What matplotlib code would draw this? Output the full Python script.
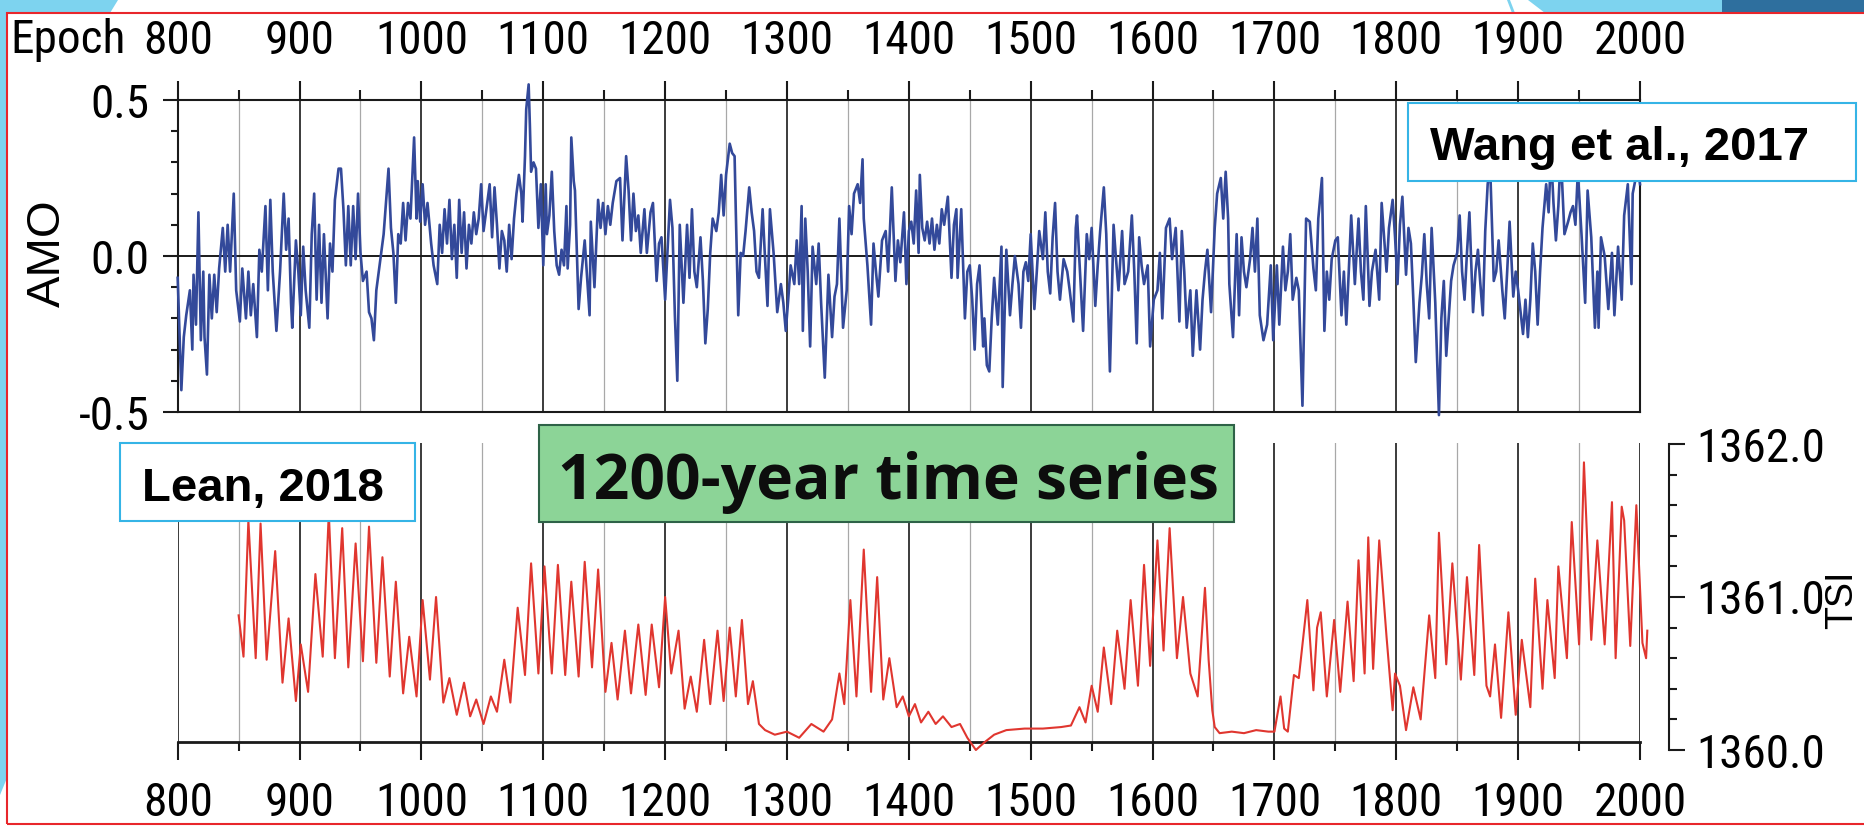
import matplotlib
matplotlib.use("Agg")
import matplotlib.pyplot as plt
import matplotlib.patches as mpatches
from matplotlib import font_manager as fm
from matplotlib.ticker import MultipleLocator, FormatStrFormatter

plt.rcParams["font.family"] = ["Liberation Sans", "DejaVu Sans"]
plt.rcParams["axes.unicode_minus"] = False

# ---- values (year, value) ----
amo_800_1100 = [
    (800, -0.07), (803, -0.43), (805, -0.26), (807, -0.19), (810, -0.11), (812, -0.30), (813, -0.06),
    (815, -0.22), (817, 0.14), (819, -0.27), (821, -0.05), (822, -0.26), (824, -0.38), (826, -0.06),
    (828, -0.20), (830, -0.06), (832, -0.18), (834, -0.04), (837, 0.09), (839, -0.05), (841, 0.10),
    (843, -0.05), (846, 0.20), (848, -0.11), (851, -0.21), (853, -0.04), (856, -0.20), (858, -0.05),
    (860, -0.19), (862, -0.09), (865, -0.26), (867, 0.02), (869, -0.05), (872, 0.16), (874, -0.11),
    (876, 0.18), (878, -0.05), (881, -0.24), (884, -0.05), (887, 0.20), (889, 0.02), (891, 0.12),
    (893, -0.15), (894, -0.23), (897, 0.05), (899, -0.05), (901, -0.19), (903, 0.03), (905, -0.11),
    (908, -0.23), (910, 0.07), (912, 0.20), (914, -0.14), (916, 0.10), (918, -0.15), (920, 0.07),
    (923, -0.20), (925, 0.04), (927, -0.05), (929, 0.18), (932, 0.28), (934, 0.28), (936, 0.15),
    (938, -0.03), (940, 0.16), (942, -0.03), (944, 0.16), (946, -0.01), (948, 0.20), (950, 0.01),
    (952, -0.08), (955, -0.05), (957, -0.18), (959, -0.20), (961, -0.27), (963, -0.11), (965, -0.05),
    (967, 0.01), (969, 0.07), (973, 0.28), (975, 0.09), (977, 0.01), (979, -0.15), (981, 0.07),
    (983, 0.04), (985, 0.17), (987, 0.05), (989, 0.17), (991, 0.12), (994, 0.38), (996, 0.12),
    (997, 0.24), (999, 0.11), (1001, 0.23), (1003, 0.10), (1005, 0.17), (1008, 0.04), (1010, -0.03),
    (1013, -0.09), (1015, 0.10), (1017, 0.01), (1019, 0.15), (1021, 0.04), (1023, 0.18), (1025, -0.01),
    (1027, 0.10), (1029, -0.07), (1031, 0.18), (1033, 0.01), (1035, 0.14), (1037, -0.04), (1039, 0.10),
    (1041, 0.04), (1043, 0.14), (1045, 0.07), (1047, 0.12), (1049, 0.23), (1051, 0.08), (1053, 0.14),
    (1056, 0.23), (1058, 0.06), (1060, 0.22), (1062, 0.10), (1064, -0.04), (1066, 0.08), (1068, 0.05),
    (1070, -0.05), (1072, 0.10), (1074, -0.01), (1076, 0.12), (1078, 0.20), (1080, 0.26), (1082, 0.20),
    (1083, 0.11), (1085, 0.32), (1086, 0.47), (1088, 0.55), (1089, 0.42), (1090, 0.27), (1092, 0.30),
    (1094, 0.28), (1096, 0.09), (1098, 0.23), (1100, -0.03),
]
amo_1100_1400 = [
    (1102, 0.23), (1103, 0.07), (1105, 0.13), (1107, 0.27), (1109, 0.08), (1111, -0.03), (1113, -0.06),
    (1115, 0.02), (1117, -0.03), (1119, 0.16), (1120, -0.04), (1122, 0.10), (1123, 0.38), (1125, 0.24),
    (1126, 0.21), (1129, -0.17), (1131, -0.07), (1134, 0.05), (1138, -0.19), (1139, 0.11), (1142, -0.10),
    (1145, 0.18), (1147, 0.09), (1149, 0.17), (1151, 0.07), (1153, 0.16), (1155, 0.10), (1157, 0.17),
    (1160, 0.24), (1163, 0.25), (1165, 0.05), (1168, 0.32), (1170, 0.21), (1172, 0.05), (1174, 0.20),
    (1176, 0.08), (1178, 0.13), (1180, 0.01), (1183, 0.15), (1185, 0.01), (1188, 0.14), (1190, 0.17),
    (1193, -0.08), (1195, 0.04), (1197, 0.06), (1200, -0.14), (1204, 0.18), (1206, 0.09), (1208, -0.19),
    (1210, -0.40), (1212, 0.10), (1215, -0.15), (1218, 0.10), (1220, -0.07), (1222, 0.15), (1224, -0.05),
    (1226, -0.10), (1229, 0.06), (1231, -0.08), (1233, -0.28), (1235, -0.17), (1237, 0.01), (1239, 0.12),
    (1242, 0.08), (1244, 0.14), (1246, 0.26), (1248, 0.13), (1250, 0.26), (1253, 0.36), (1255, 0.33),
    (1257, 0.32), (1258, 0.14), (1260, -0.19), (1262, 0.01), (1264, 0.00), (1266, 0.08), (1269, 0.22),
    (1271, 0.14), (1273, 0.08), (1275, -0.05), (1277, -0.07), (1280, 0.15), (1282, -0.01), (1284, -0.16),
    (1286, 0.15), (1289, 0.01), (1292, -0.18), (1295, -0.09), (1297, -0.15), (1299, -0.24), (1301, -0.14),
    (1303, -0.03), (1306, -0.09), (1308, 0.05), (1310, -0.09), (1312, 0.16), (1313, -0.24), (1315, 0.12),
    (1317, -0.05), (1319, -0.29), (1321, 0.03), (1324, -0.09), (1326, 0.04), (1328, -0.15), (1331, -0.39),
    (1334, -0.06), (1337, -0.26), (1339, -0.13), (1341, -0.09), (1343, 0.12), (1346, -0.23), (1349, -0.11),
    (1351, 0.16), (1353, 0.07), (1355, 0.20), (1358, 0.23), (1360, 0.17), (1362, 0.31), (1363, 0.12),
    (1366, -0.03), (1369, -0.22), (1371, 0.04), (1373, -0.05), (1375, -0.13), (1378, 0.05), (1381, 0.08),
    (1383, -0.05), (1386, 0.22), (1389, -0.08), (1391, 0.05), (1393, -0.02), (1396, 0.14), (1398, -0.09),
    (1400, 0.08),
]
amo_1400_1700 = [
    (1402, 0.11), (1404, 0.04), (1406, 0.21), (1408, 0.01), (1409, 0.26), (1411, 0.09), (1413, 0.05),
    (1415, 0.11), (1417, 0.04), (1419, 0.12), (1421, 0.02), (1423, 0.10), (1425, 0.04), (1427, 0.15),
    (1429, 0.10), (1432, 0.19), (1435, -0.07), (1437, 0.10), (1439, 0.15), (1440, -0.07), (1443, 0.15),
    (1446, -0.20), (1448, -0.05), (1450, -0.03), (1452, -0.14), (1454, -0.30), (1456, -0.09), (1458, -0.03),
    (1461, -0.29), (1462, -0.20), (1464, -0.35), (1466, -0.37), (1468, -0.20), (1470, -0.07), (1473, -0.22),
    (1476, 0.03), (1477, -0.42), (1480, 0.02), (1483, -0.19), (1485, -0.09), (1487, 0.00), (1490, -0.09),
    (1492, -0.23), (1494, -0.05), (1496, -0.02), (1498, -0.08), (1500, 0.07), (1503, -0.17), (1505, -0.05),
    (1507, 0.08), (1510, -0.01), (1512, 0.14), (1514, -0.05), (1516, -0.12), (1518, 0.06), (1520, 0.17),
    (1522, -0.05), (1524, -0.14), (1527, -0.01), (1530, -0.05), (1532, -0.11), (1535, -0.21), (1537, 0.09),
    (1538, 0.13), (1541, -0.09), (1543, -0.24), (1546, 0.07), (1548, -0.01), (1550, 0.09), (1553, -0.16),
    (1555, -0.03), (1557, 0.08), (1560, 0.22), (1562, 0.07), (1565, -0.37), (1568, 0.10), (1570, -0.01),
    (1572, -0.11), (1575, 0.08), (1577, -0.09), (1580, -0.05), (1583, 0.13), (1585, -0.05), (1587, -0.28),
    (1589, 0.06), (1591, -0.03), (1593, -0.09), (1596, -0.03), (1598, -0.29), (1601, -0.14), (1604, -0.11),
    (1606, 0.01), (1608, -0.20), (1611, 0.09), (1614, 0.12), (1616, -0.01), (1619, 0.09), (1622, -0.21),
    (1624, 0.08), (1626, -0.05), (1628, -0.23), (1631, -0.11), (1633, -0.32), (1636, -0.11), (1639, -0.30),
    (1641, -0.14), (1643, -0.05), (1645, 0.02), (1648, -0.18), (1651, 0.09), (1653, 0.20), (1656, 0.25),
    (1658, 0.12), (1660, 0.27), (1662, 0.12), (1663, -0.09), (1666, -0.26), (1669, 0.07), (1671, -0.19),
    (1673, 0.06), (1675, -0.05), (1677, -0.10), (1680, -0.01), (1682, 0.09), (1684, -0.05), (1686, 0.12),
    (1688, -0.19), (1691, -0.27), (1694, -0.22), (1697, -0.03),
]
amo_1700_2000 = [
    (1699, -0.27), (1702, -0.03), (1704, -0.22), (1707, 0.03), (1709, -0.11), (1711, -0.05), (1713, 0.07),
    (1715, -0.14), (1718, -0.07), (1720, -0.11), (1723, -0.48), (1726, 0.12), (1729, 0.11), (1732, -0.04),
    (1734, -0.11), (1736, 0.12), (1739, 0.25), (1741, -0.24), (1743, -0.05), (1745, -0.14), (1747, -0.01),
    (1750, 0.05), (1752, 0.06), (1755, -0.19), (1757, -0.05), (1759, -0.22), (1761, -0.05), (1763, 0.13),
    (1766, -0.09), (1769, 0.12), (1771, -0.05), (1773, -0.14), (1775, 0.16), (1778, -0.16), (1780, -0.05),
    (1783, 0.02), (1786, -0.14), (1788, 0.17), (1790, 0.06), (1792, -0.05), (1794, 0.09), (1797, 0.18),
    (1799, 0.06), (1801, -0.09), (1803, 0.10), (1805, 0.19), (1808, -0.06), (1810, 0.09), (1812, 0.04),
    (1814, -0.14), (1816, -0.34), (1819, -0.15), (1821, -0.06), (1823, 0.07), (1825, -0.09), (1827, -0.20),
    (1829, 0.09), (1832, -0.15), (1835, -0.51), (1837, -0.20), (1839, -0.08), (1841, -0.32), (1843, -0.20),
    (1845, -0.08), (1847, -0.03), (1850, 0.01), (1852, 0.13), (1854, -0.05), (1856, -0.14), (1858, 0.01),
    (1860, 0.14), (1863, -0.18), (1865, -0.05), (1867, 0.02), (1869, -0.09), (1871, -0.19), (1873, 0.08),
    (1875, 0.23), (1877, 0.29), (1880, -0.08), (1882, -0.05), (1884, 0.05), (1887, -0.11), (1889, -0.20),
    (1891, -0.05), (1893, 0.11), (1896, -0.13), (1898, -0.05), (1900, -0.11), (1902, -0.18), (1904, -0.25),
    (1906, -0.14), (1908, -0.26), (1910, -0.14), (1912, 0.04), (1914, -0.05), (1916, -0.22), (1918, -0.05),
    (1920, 0.09), (1923, 0.23), (1925, 0.14), (1927, 0.33), (1929, 0.17), (1931, 0.05), (1933, 0.16),
    (1935, 0.33), (1938, 0.07), (1941, 0.11), (1943, 0.14), (1945, 0.16), (1947, 0.10), (1949, 0.27),
    (1952, 0.07), (1955, -0.15), (1957, 0.21), (1960, 0.06), (1963, -0.23), (1965, -0.05), (1966, -0.23),
    (1968, 0.06), (1971, 0.00), (1974, -0.17), (1977, 0.01), (1979, -0.19), (1982, 0.03), (1985, -0.14),
    (1987, 0.13), (1990, 0.23), (1993, -0.09), (1994, 0.20), (1996, 0.24), (1998, 0.29), (2000, 0.23),
]

tsi_850_1250 = [
    (850, 1360.88), (854, 1360.61), (858, 1361.50), (864, 1360.60), (868, 1361.48), (873, 1360.59),
    (880, 1361.30), (886, 1360.44), (891, 1360.86), (897, 1360.32), (901, 1360.69), (907, 1360.38),
    (913, 1361.15), (919, 1360.61), (924, 1361.55), (929, 1360.60), (935, 1361.45), (940, 1360.54),
    (946, 1361.35), (952, 1360.58), (957, 1361.46), (963, 1360.57), (968, 1361.26), (974, 1360.48),
    (979, 1361.10), (985, 1360.37), (990, 1360.74), (996, 1360.35), (1001, 1360.98), (1007, 1360.46),
    (1012, 1361.00), (1018, 1360.31), (1023, 1360.47), (1029, 1360.23), (1035, 1360.44), (1040, 1360.22),
    (1045, 1360.33), (1051, 1360.17), (1057, 1360.35), (1062, 1360.25), (1068, 1360.59), (1073, 1360.31),
    (1079, 1360.93), (1085, 1360.49), (1090, 1361.22), (1096, 1360.50), (1101, 1361.20), (1107, 1360.50),
    (1112, 1361.21), (1118, 1360.49), (1123, 1361.10), (1129, 1360.48), (1134, 1361.23), (1140, 1360.54),
    (1145, 1361.18), (1151, 1360.38), (1156, 1360.70), (1161, 1360.33), (1167, 1360.78), (1172, 1360.37),
    (1178, 1360.82), (1184, 1360.36), (1189, 1360.82), (1195, 1360.41), (1200, 1361.00), (1205, 1360.50),
    (1211, 1360.78), (1216, 1360.27), (1221, 1360.48), (1226, 1360.25), (1232, 1360.72), (1237, 1360.30),
    (1243, 1360.78), (1248, 1360.32),
]
tsi_1250_1650 = [
    (1253, 1360.80), (1258, 1360.35), (1263, 1360.85), (1268, 1360.30), (1272, 1360.45), (1277, 1360.17),
    (1282, 1360.13), (1290, 1360.10), (1300, 1360.12), (1310, 1360.08), (1320, 1360.17), (1330, 1360.12),
    (1337, 1360.20), (1343, 1360.50), (1347, 1360.30), (1352, 1360.98), (1357, 1360.35), (1363, 1361.31),
    (1369, 1360.38), (1374, 1361.13), (1379, 1360.33), (1384, 1360.60), (1390, 1360.28), (1395, 1360.35),
    (1400, 1360.22), (1405, 1360.30), (1410, 1360.18), (1416, 1360.25), (1422, 1360.17), (1428, 1360.22),
    (1435, 1360.15), (1442, 1360.17), (1448, 1360.08), (1455, 1360.00), (1462, 1360.05), (1470, 1360.10),
    (1480, 1360.13), (1495, 1360.14), (1510, 1360.14), (1525, 1360.15), (1533, 1360.16), (1540, 1360.28),
    (1545, 1360.18), (1550, 1360.42), (1555, 1360.25), (1560, 1360.67), (1566, 1360.30), (1571, 1360.78),
    (1577, 1360.40), (1582, 1360.98), (1588, 1360.42), (1593, 1361.21), (1598, 1360.55), (1604, 1361.37),
    (1609, 1360.65), (1614, 1361.45), (1620, 1360.60), (1625, 1361.00), (1631, 1360.50), (1637, 1360.35),
    (1643, 1361.06), (1646, 1360.59), (1649, 1360.26),
]
tsi_1650_2006 = [
    (1651, 1360.15), (1655, 1360.11), (1665, 1360.12), (1675, 1360.11), (1685, 1360.13), (1695, 1360.12),
    (1700, 1360.12), (1705, 1360.35), (1708, 1360.14), (1711, 1360.12), (1716, 1360.49), (1720, 1360.47),
    (1727, 1360.98), (1732, 1360.39), (1735, 1360.80), (1738, 1360.90), (1743, 1360.35), (1749, 1360.85),
    (1754, 1360.38), (1760, 1360.97), (1765, 1360.45), (1769, 1361.24), (1774, 1360.50), (1777, 1361.39),
    (1781, 1360.53), (1786, 1361.37), (1792, 1360.74), (1797, 1360.26), (1799, 1360.50), (1803, 1360.42),
    (1808, 1360.13), (1814, 1360.41), (1820, 1360.20), (1827, 1360.88), (1832, 1360.47), (1835, 1361.42),
    (1841, 1360.56), (1846, 1361.22), (1853, 1360.46), (1858, 1361.13), (1864, 1360.49), (1868, 1361.34),
    (1874, 1360.42), (1877, 1360.35), (1881, 1360.69), (1886, 1360.21), (1892, 1360.90), (1898, 1360.23),
    (1903, 1360.72), (1910, 1360.28), (1914, 1361.12), (1920, 1360.40), (1924, 1360.98), (1930, 1360.47),
    (1933, 1361.20), (1940, 1360.60), (1944, 1361.49), (1950, 1360.69), (1954, 1361.88), (1960, 1360.72),
    (1965, 1361.37), (1971, 1360.69), (1977, 1361.62), (1980, 1360.60), (1985, 1361.59), (1987, 1361.50),
    (1992, 1360.68), (1997, 1361.60), (2002, 1360.70), (2005, 1360.60), (2006, 1360.78),
]

year_ticks = list(range(800, 2001, 100))
amo_ticks = [-0.5, 0.0, 0.5]
tsi_ticks = [1360.0, 1361.0, 1362.0]

amo_years, amo_vals = zip(*(amo_800_1100 + amo_1100_1400 + amo_1400_1700 + amo_1700_2000))
tsi_years, tsi_vals = zip(*(tsi_850_1250 + tsi_1250_1650 + tsi_1650_2006))

# colours
AMO_BLUE = "#33499a"
TSI_RED = "#e0362f"
INK = "#1a1a1a"
GRID_GRAY = "#a8a8a8"
BOX_CYAN = "#35b4e6"
GREEN_FACE = "#8cd497"
GREEN_EDGE = "#2e6247"
BORDER_RED = "#e8262b"
SKY = "#7dd3ef"
STEEL = "#2e6f9e"
ARIAL = ["Liberation Sans", "DejaVu Sans"]


# axis numbers in the reference are set in a condensed sans; use one if the box has it
def find_condensed():
    prefs = ["liberation sans narrow", "roboto condensed", "noto sans", "open sans",
             "dejavu sans", "liberation sans"]
    found = []
    for f in fm.fontManager.ttflist:
        name = f.name.lower()
        narrow = ("narrow" in name or "condensed" in name
                  or str(f.stretch).lower() in ("condensed", "semi-condensed", "extra-condensed"))
        if not narrow or f.style != "normal":
            continue
        if str(f.weight).lower() not in ("400", "normal", "regular"):
            continue
        rank = next((i for i, p in enumerate(prefs) if name.startswith(p)), len(prefs))
        found.append((rank, f.fname))
    found.sort()
    return found[0][1] if found else None


cond_file = find_condensed()
if cond_file:
    NUM_FONT = fm.FontProperties(fname=cond_file, size=34)
else:
    NUM_FONT = fm.FontProperties(family=ARIAL, size=29)

# layout is worked out in pixels of the 1864x826 picture (y from top)
W, H = 1864, 826


def fx(x):
    return x / W


def fy(y):
    return 1 - y / H


def pbox(x0, y0, x1, y1):
    return [fx(x0), fy(y1), (x1 - x0) / W, (y1 - y0) / H]


fig = plt.figure(figsize=(W / 100, H / 100), dpi=100)
fig.patch.set_facecolor("white")

X0, X1 = 177.7, 1640
ax_amo = fig.add_axes(pbox(X0, 100, X1, 412))
ax_low = fig.add_axes(pbox(X0, 443, X1, 742))
ax_tsi = fig.add_axes(pbox(X0, 444, X1, 750))

for ax in (ax_amo, ax_low, ax_tsi):
    ax.set_xlim(800, 2000)

# vertical grid in both panels
for ax in (ax_amo, ax_low):
    for yr in range(800, 2001, 50):
        major = yr % 100 == 0
        ax.axvline(yr, color=INK if major else GRID_GRAY,
                   lw=1.2 if major else 0.9, zorder=1)

# ---- AMO panel ----
ax_amo.set_ylim(-0.5, 0.5)
ax_amo.axhline(0, color=INK, lw=1.4, zorder=1.5)
ax_amo.plot(amo_years, amo_vals, color=AMO_BLUE, lw=1.9, zorder=3, clip_on=False)

ax_amo.set_xticks(year_ticks)
ax_amo.xaxis.set_minor_locator(MultipleLocator(50))
ax_amo.tick_params(axis="x", which="both", top=True, bottom=False,
                   labeltop=True, labelbottom=False, direction="out",
                   width=1.5, color=INK)
ax_amo.tick_params(axis="x", which="major", length=13.7, pad=13)
ax_amo.tick_params(axis="x", which="minor", length=7.2)

ax_amo.set_yticks(amo_ticks)
ax_amo.yaxis.set_major_formatter(FormatStrFormatter("%.1f"))
ax_amo.yaxis.set_minor_locator(MultipleLocator(0.1))
ax_amo.tick_params(axis="y", which="both", direction="out", width=1.5, color=INK)
ax_amo.tick_params(axis="y", which="major", length=10.8, pad=9.4)
ax_amo.tick_params(axis="y", which="minor", length=5)
for s in ax_amo.spines.values():
    s.set_linewidth(1.5)
    s.set_color(INK)

ax_amo.set_ylabel("AMO", fontsize=34, family=ARIAL)
ax_amo.yaxis.set_label_coords((70 - X0) / (X1 - X0), 0.51)

fig.text(fx(10), fy(53), "Epoch", ha="left", va="baseline", fontproperties=NUM_FONT)

# ---- lower panel frame (grid + bottom year axis) ----
ax_low.set_ylim(0, 1)
ax_low.patch.set_visible(False)
for side in ("top", "left", "right"):
    ax_low.spines[side].set_visible(False)
ax_low.spines["bottom"].set_linewidth(2)
ax_low.spines["bottom"].set_color(INK)
ax_low.set_yticks([])
ax_low.set_xticks(year_ticks)
ax_low.xaxis.set_minor_locator(MultipleLocator(50))
ax_low.tick_params(axis="x", which="both", direction="out", width=1.5, color=INK)
ax_low.tick_params(axis="x", which="major", length=13, pad=15)
ax_low.tick_params(axis="x", which="minor", length=6.5)

# ---- TSI series, own scale on the right ----
ax_tsi.set_ylim(1360, 1362)
ax_tsi.patch.set_visible(False)
for side in ("top", "left", "bottom"):
    ax_tsi.spines[side].set_visible(False)
ax_tsi.spines["right"].set_position(("outward", 20.9))
ax_tsi.spines["right"].set_linewidth(1.5)
ax_tsi.spines["right"].set_color(INK)
ax_tsi.tick_params(axis="x", bottom=False, labelbottom=False)
ax_tsi.yaxis.tick_right()
ax_tsi.set_yticks(tsi_ticks)
ax_tsi.yaxis.set_major_formatter(FormatStrFormatter("%.1f"))
ax_tsi.yaxis.set_minor_locator(MultipleLocator(0.2))
ax_tsi.tick_params(axis="y", which="both", direction="out", width=1.5, color=INK)
ax_tsi.tick_params(axis="y", which="major", length=11.5, pad=8.5)
ax_tsi.tick_params(axis="y", which="minor", length=5.8)
ax_tsi.plot(tsi_years, tsi_vals, color=TSI_RED, lw=1.5, zorder=3, clip_on=False,
            solid_joinstyle="round")

ax_tsi.yaxis.set_label_position("right")
ax_tsi.set_ylabel("TSI", fontsize=27, family=ARIAL, rotation=90)
ax_tsi.yaxis.set_label_coords(1 + (1824 - X1) / (X1 - X0), 0.49)

# number labels share the condensed face
for lab in (ax_amo.get_xticklabels() + ax_amo.get_yticklabels()
            + ax_low.get_xticklabels() + ax_tsi.get_yticklabels()):
    lab.set_fontproperties(NUM_FONT)


# ---- slide decoration and annotation boxes ----
def add_rect(x0, y0, x1, y1, **kw):
    fig.add_artist(mpatches.Rectangle((fx(x0), fy(y1)), (x1 - x0) / W, (y1 - y0) / H,
                                      transform=fig.transFigure, **kw))


def add_poly(pts, **kw):
    fig.add_artist(mpatches.Polygon([(fx(x), fy(y)) for x, y in pts], closed=True,
                                    transform=fig.transFigure, **kw))


add_poly([(0, 0), (118, 0), (110, 13), (7, 13), (7, 778), (0, 795)],
         facecolor=SKY, edgecolor="none", zorder=0.5)
add_poly([(1528, 0), (1722, 0), (1722, 13), (1545, 13)],
         facecolor=SKY, edgecolor="none", zorder=0.5)
add_poly([(1507, 0), (1510, 0), (1515, 13), (1512, 13)],
         facecolor=SKY, edgecolor="none", zorder=0.5)
add_rect(1722, 0, 1866, 13, facecolor=STEEL, edgecolor="none", zorder=0.5)
add_rect(7, 13, 1868, 824, facecolor="none", edgecolor=BORDER_RED, lw=1.5, zorder=0.6)

add_rect(1407.5, 103, 1855.6, 181, facecolor="white", edgecolor=BOX_CYAN, lw=1.5, zorder=4)
fig.text(fx(1619.5), fy(160), "Wang et al., 2017", ha="center", va="baseline",
         fontsize=34, fontweight="bold", family=ARIAL, zorder=5)

add_rect(120, 443, 415, 521, facecolor="white", edgecolor=BOX_CYAN, lw=1.5, zorder=4)
fig.text(fx(262.5), fy(501), "Lean, 2018", ha="center", va="baseline",
         fontsize=34, fontweight="bold", family=ARIAL, zorder=5)

add_rect(539, 425, 1234, 522, facecolor=GREEN_FACE, edgecolor=GREEN_EDGE, lw=1.5, zorder=4)
fig.text(fx(888), fy(499), "1200-year time series", ha="center", va="baseline",
         fontsize=45, fontweight="bold", family=["Open Sans", "DejaVu Sans"],
         color="#0d0d0d", zorder=5)

fig.savefig("out.png", dpi=100)
